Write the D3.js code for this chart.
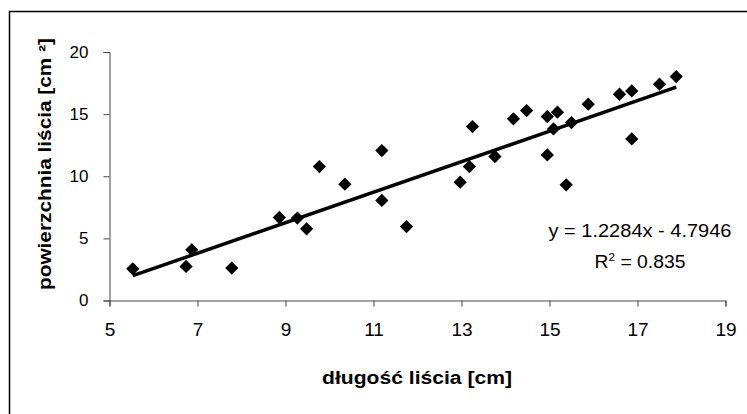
<!DOCTYPE html>
<html>
<head>
<meta charset="utf-8">
<script src="https://cdn.jsdelivr.net/npm/d3@7"></script>
<style>
  body { margin: 0; background: #fff; }
  svg { display: block; font-family: Arial, "Liberation Sans", sans-serif; }
  .tick text { fill: #000; }
  .title { font-size: 18px; font-weight: bold; }
</style>
</head>
<body>
<svg id="chart" width="747" height="414"></svg>
<script>
// leaf length [cm] and leaf area [cm2]
const lengths = [5.53, 6.74, 6.87, 7.78, 8.86, 9.27, 9.48, 9.77, 10.35, 11.19,
    11.19, 11.75, 12.97, 13.18, 13.25, 13.76, 14.18, 14.48, 14.95, 15.09,
    14.95, 15.18, 15.38, 15.5, 15.88, 16.59, 16.87, 16.87, 17.5, 17.88];
const areas = [2.55, 2.74, 4.08, 2.61, 6.68, 6.63, 5.77, 10.78, 9.36, 12.07,
    8.05, 5.95, 9.52, 10.78, 14.0, 11.59, 14.62, 15.29, 14.8, 13.81,
    11.72, 15.16, 9.31, 14.32, 15.8, 16.6, 16.87, 13.0, 17.41, 18.02];
const xTicks = [5, 7, 9, 11, 13, 15, 17, 19];
const yTicks = [0, 5, 10, 15, 20];
const slope = 1.2284, intercept = -4.7946, r2 = "0.835";

const svg = d3.select("#chart");
const x = d3.scaleLinear().domain([5, 19]).range([109.5, 725.5]);
const y = d3.scaleLinear().domain([0, 20]).range([300.5, 52]);

// outer chart frame (runs past the right/bottom edge)
svg.append("rect").attr("x", 9.5).attr("y", 11.5).attr("width", 800).attr("height", 450)
    .attr("fill", "none").attr("stroke", "#000").attr("stroke-width", 1.5);

const gx = svg.append("g").attr("transform", "translate(0,300.5)")
    .call(d3.axisBottom(x).tickValues(xTicks).tickSize(6).tickPadding(16));
const gy = svg.append("g").attr("transform", "translate(109.5,0)")
    .call(d3.axisLeft(y).tickValues(yTicks).tickSize(6).tickPadding(15));
[gx, gy].forEach(g => {
    g.select(".domain").attr("stroke", "#444").attr("stroke-width", 1);
    g.selectAll(".tick line").attr("stroke", "#444");
    g.selectAll(".tick text").attr("font-family", null);
});
gx.selectAll(".tick text").attr("font-size", 19);
gy.selectAll(".tick text").attr("font-size", 17);

// trendline across the data range
const xe = d3.extent(lengths);
svg.append("line")
    .attr("x1", x(xe[0])).attr("y1", y(slope * xe[0] + intercept))
    .attr("x2", x(xe[1])).attr("y2", y(slope * xe[1] + intercept))
    .attr("stroke", "#000").attr("stroke-width", 3.5);

const diamond = d3.symbol(d3.symbolSquare, 88)();
svg.append("g").selectAll("path").data(lengths).join("path")
    .attr("d", diamond)
    .attr("transform", (d, i) => `translate(${x(d)},${y(areas[i])}) rotate(45)`)
    .attr("fill", "#000");

svg.append("text").attr("x", 640).attr("y", 237).attr("text-anchor", "middle")
    .attr("font-size", 18).attr("textLength", 183).attr("lengthAdjust", "spacingAndGlyphs")
    .text(`y = ${slope}x - ${Math.abs(intercept)}`);
const rt = svg.append("text").attr("x", 640).attr("y", 268).attr("text-anchor", "middle")
    .attr("font-size", 18).attr("textLength", 91).attr("lengthAdjust", "spacingAndGlyphs");
rt.append("tspan").text("R");
rt.append("tspan").attr("font-size", 11).attr("dy", -7).text("2");
rt.append("tspan").attr("dy", 7).text(" = " + r2);

svg.append("text").attr("class", "title").attr("x", 417).attr("y", 384)
    .attr("text-anchor", "middle").attr("textLength", 190).attr("lengthAdjust", "spacingAndGlyphs")
    .text("długość liścia [cm]");
svg.append("text").attr("class", "title").attr("text-anchor", "middle")
    .attr("textLength", 252).attr("lengthAdjust", "spacingAndGlyphs")
    .attr("transform", "translate(51,164) rotate(-90)").text("powierzchnia liścia [cm  ²]");
</script>
</body>
</html>
